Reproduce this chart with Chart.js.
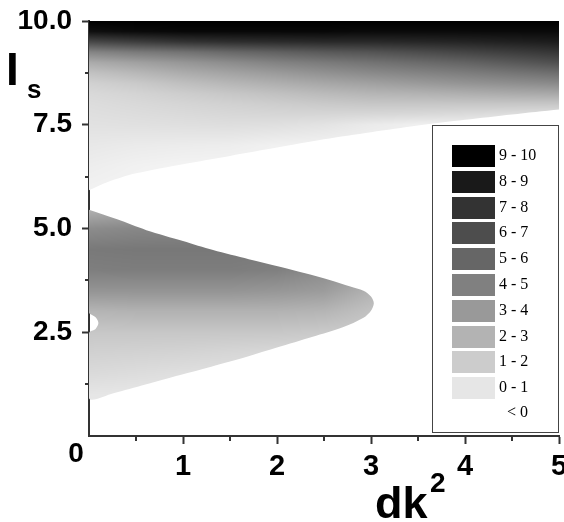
<!DOCTYPE html>
<html>
<head>
<meta charset="utf-8">
<script src="https://cdn.jsdelivr.net/npm/chart.js@4.4.0/dist/chart.umd.min.js"></script>
<style>
  html, body { margin: 0; padding: 0; background: #fff; }
  canvas { display: block; }
</style>
</head>
<body>
<canvas id="chart" width="564" height="522"></canvas>
<script>
// ---- values ----
var xTicks = [0, 1, 2, 3, 4, 5];
var xMinor = [0.5, 1.5, 2.5, 3.5, 4.5];
var yTicks = [0, 2.5, 5, 7.5, 10];
var yMinor = [1.25, 3.75, 6.25, 8.75];

// outline of the lower lobe (clockwise from the Is axis, with the small notch)
var lobeEdgeX = [0, 0.3, 0.61, 1.0, 1.32, 1.7, 2.03, 2.3, 2.56, 2.78, 2.92, 3.0, 3.03, 3.0, 2.92, 2.7, 2.38, 2.0, 1.68, 1.3, 0.97, 0.6, 0.26, 0, 0, 0.07, 0.1, 0.07, 0];
var lobeEdgeY = [5.45, 5.22, 4.96, 4.7, 4.48, 4.26, 4.08, 3.92, 3.76, 3.6, 3.5, 3.36, 3.2, 3.02, 2.85, 2.62, 2.39, 2.13, 1.91, 1.67, 1.47, 1.24, 1.03, 0.91, 2.48, 2.58, 2.72, 2.86, 2.96];

// lower edge of the upper region
var topEdgeX = [0, 0.2, 0.5, 1, 1.5, 2, 2.5, 3, 3.5, 4, 4.5, 5];
var topEdgeY = [5.92, 6.12, 6.33, 6.55, 6.75, 6.95, 7.15, 7.32, 7.48, 7.62, 7.75, 7.87];

// value grid inside the lobe (rows from top to bottom)
var lobeGridX = [0, 0.5, 1, 1.5, 2, 2.5, 3];
var lobeGridY = [5.5, 5, 4.5, 4, 3.5, 3, 2.5, 2, 1.5, 1, 0.75];
var lobeGrid = [
  [2.9, 3.3, 3.7, 3.9, 4.1, 4.2, 4.0],
  [4.5, 4.7, 4.8, 4.9, 4.9, 4.6, 4.2],
  [5.25, 5.3, 5.3, 5.3, 5.2, 4.7, 4.1],
  [5.05, 5.1, 5.1, 5.1, 5.0, 4.5, 3.8],
  [4.2, 4.2, 4.2, 4.2, 4.1, 3.9, 3.0],
  [2.9, 3.0, 3.0, 3.0, 3.0, 2.9, 2.4],
  [2.2, 2.2, 2.2, 2.2, 2.2, 2.1, 2.0],
  [1.8, 1.75, 1.7, 1.6, 1.5, 1.5, 1.5],
  [1.45, 1.35, 1.25, 1.2, 1.2, 1.2, 1.2],
  [1.0, 0.95, 0.9, 0.9, 0.9, 0.9, 0.9],
  [0.9, 0.9, 0.9, 0.9, 0.9, 0.9, 0.9]
];

// value grid of the upper region (rows from top to bottom)
var topGridX = [0, 0.5, 1, 1.5, 2, 2.5, 3, 3.5, 4, 4.5, 5];
var topGridY = [10, 9.75, 9.5, 9.25, 9, 8.75, 8.5, 8.25, 8, 7.75, 7.5, 7, 6.5, 6];
var topGrid = [
  [10, 10, 10, 10, 10, 10, 10, 10, 10, 10, 10],
  [9.4, 9.6, 9.7, 9.7, 9.7, 9.7, 9.6, 9.6, 9.6, 9.6, 9.6],
  [7.2, 7.6, 8.0, 8.2, 8.3, 8.4, 8.4, 8.5, 8.6, 8.75, 8.9],
  [4.8, 5.2, 5.5, 5.9, 6.2, 6.5, 6.7, 7.0, 7.3, 7.6, 7.9],
  [3.3, 3.7, 4.1, 4.5, 4.9, 5.2, 5.5, 5.8, 6.1, 6.5, 6.9],
  [2.4, 2.8, 3.25, 3.6, 3.95, 4.3, 4.6, 4.85, 5.1, 5.4, 5.7],
  [1.8, 2.1, 2.5, 2.85, 3.15, 3.45, 3.7, 3.95, 4.2, 4.4, 4.6],
  [1.5, 1.7, 1.95, 2.2, 2.45, 2.7, 2.9, 3.0, 3.15, 3.3, 3.4],
  [1.35, 1.5, 1.65, 1.8, 1.95, 2.1, 2.2, 2.2, 2.2, 2.2, 2.2],
  [1.25, 1.35, 1.45, 1.55, 1.6, 1.6, 1.55, 1.5, 1.4, 1.3, 1.2],
  [1.15, 1.2, 1.25, 1.3, 1.25, 1.1, 0.8, 0.6, 0.6, 0.6, 0.6],
  [0.9, 0.8, 0.75, 0.7, 0.55, 0.5, 0.5, 0.5, 0.5, 0.5, 0.5],
  [0.7, 0.55, 0.45, 0.45, 0.45, 0.45, 0.45, 0.45, 0.45, 0.45, 0.45],
  [0.55, 0.45, 0.45, 0.45, 0.45, 0.45, 0.45, 0.45, 0.45, 0.45, 0.45]
];

var legendLow = [9, 8, 7, 6, 5, 4, 3, 2, 1, 0];
var legendHigh = [10, 9, 8, 7, 6, 5, 4, 3, 2, 1];
var belowLabel = '< 0';

// ---- helpers ----
function grayOf(v) {
  var t = Math.min(Math.max(v, 0), 10);
  return Math.round(255 * (1 - t / 10));
}

function locate(arr, v) {
  var asc = arr[0] < arr[arr.length - 1];
  for (var i = 0; i < arr.length - 1; i++) {
    var a = arr[i], b = arr[i + 1];
    if ((asc && v <= b) || (!asc && v >= b)) {
      var t = (v - a) / (b - a);
      return [i, Math.min(Math.max(t, 0), 1)];
    }
  }
  return [arr.length - 2, 1];
}

function sample(gx, gy, grid, x, y) {
  var cx = locate(gx, x), cy = locate(gy, y);
  var i = cx[0], tx = cx[1], j = cy[0], ty = cy[1];
  var a = grid[j][i] * (1 - tx) + grid[j][i + 1] * tx;
  var b = grid[j + 1][i] * (1 - tx) + grid[j + 1][i + 1] * tx;
  return a * (1 - ty) + b * ty;
}

var fillCache = {};
function fieldFill(chart, name, gx, gy, grid) {
  var area = chart.chartArea;
  if (!area || !chart.scales.x || !chart.scales.y) return 'transparent';
  var key = name + [area.left, area.top, area.right, area.bottom].join(',');
  if (fillCache[key]) return fillCache[key];
  var sx = chart.scales.x, sy = chart.scales.y;
  var off = document.createElement('canvas');
  off.width = chart.width;
  off.height = chart.height;
  var g = off.getContext('2d');
  var img = g.createImageData(off.width, off.height);
  for (var py = Math.floor(area.top); py < Math.ceil(area.bottom); py++) {
    var vy = sy.getValueForPixel(py + 0.5);
    for (var px = Math.floor(area.left); px < Math.ceil(area.right); px++) {
      var vx = sx.getValueForPixel(px + 0.5);
      var c = grayOf(sample(gx, gy, grid, vx, vy));
      var k = (py * off.width + px) * 4;
      img.data[k] = c; img.data[k + 1] = c; img.data[k + 2] = c; img.data[k + 3] = 255;
    }
  }
  g.putImageData(img, 0, 0);
  fillCache[key] = g.createPattern(off, 'no-repeat');
  return fillCache[key];
}

function points(xs, ys) {
  return xs.map(function(x, i) { return {x: x, y: ys[i]}; });
}

var tickFont = {family: '"Liberation Sans", Arial, sans-serif', weight: 'bold'};

var decor = {
  id: 'decor',
  beforeDraw: function(chart) {
    var c = chart.ctx;
    c.save();
    c.fillStyle = '#fff';
    c.fillRect(0, 0, chart.width, chart.height);
    c.restore();
  },
  afterDraw: function(chart) {
    var c = chart.ctx, x = chart.scales.x, y = chart.scales.y;
    c.save();

    // minor ticks
    c.strokeStyle = '#333';
    c.lineWidth = 2;
    c.beginPath();
    xMinor.forEach(function(v) {
      var px = Math.round(x.getPixelForValue(v));
      c.moveTo(px, y.bottom); c.lineTo(px, y.bottom + 5);
    });
    yMinor.forEach(function(v) {
      var py = Math.round(y.getPixelForValue(v));
      c.moveTo(x.left, py); c.lineTo(x.left - 4, py);
    });
    c.stroke();

    // shared origin label
    c.fillStyle = '#000';
    c.font = 'bold 28px "Liberation Sans", Arial, sans-serif';
    c.textAlign = 'center';
    c.textBaseline = 'alphabetic';
    c.fillText('0', 76, 462);

    // axis titles
    c.textAlign = 'left';
    c.font = 'bold 46px "Liberation Sans", Arial, sans-serif';
    c.fillText('I', 6, 85);
    c.font = 'bold 26px "Liberation Sans", Arial, sans-serif';
    c.fillText('s', 27, 98);
    c.font = 'bold 45px "Liberation Sans", Arial, sans-serif';
    c.fillText('dk', 375, 518);
    c.font = 'bold 28px "Liberation Sans", Arial, sans-serif';
    c.fillText('2', 430, 492);

    // legend box
    c.fillStyle = '#fff';
    c.fillRect(432, 125, 127, 308);
    c.strokeStyle = '#444';
    c.lineWidth = 1;
    c.strokeRect(432.5, 125.5, 126, 307);
    c.font = '16px "Liberation Serif", "Times New Roman", serif';
    c.textBaseline = 'middle';
    for (var i = 0; i < legendLow.length; i++) {
      var top = 145 + i * 25.8;
      var g = grayOf(legendHigh[i]);
      c.fillStyle = 'rgb(' + g + ',' + g + ',' + g + ')';
      c.fillRect(452, Math.round(top), 43, 22);
      c.fillStyle = '#000';
      c.fillText(legendLow[i] + ' - ' + legendHigh[i], 499, Math.round(top) + 11);
    }
    c.fillText(belowLabel, 507, 413);
    c.restore();
  }
};

var chart = new Chart(document.getElementById('chart'), {
  type: 'scatter',
  data: {
    datasets: [
      {
        label: 'lobe',
        data: points(lobeEdgeX, lobeEdgeY),
        showLine: true,
        fill: 'shape',
        tension: 0.3,
        borderColor: 'transparent',
        pointRadius: 0,
        backgroundColor: function(ctx) { return fieldFill(ctx.chart, 'lobe', lobeGridX, lobeGridY, lobeGrid); }
      },
      {
        label: 'top',
        data: points(topEdgeX, topEdgeY),
        showLine: true,
        fill: 'end',
        tension: 0.3,
        borderColor: 'transparent',
        pointRadius: 0,
        backgroundColor: function(ctx) { return fieldFill(ctx.chart, 'top', topGridX, topGridY, topGrid); }
      }
    ]
  },
  options: {
    responsive: false,
    animation: false,
    events: [],
    layout: {padding: {top: 21, right: 5, left: 0, bottom: 0}},
    plugins: {legend: {display: false}, tooltip: {enabled: false}},
    scales: {
      x: {
        type: 'linear', min: 0, max: 5,
        afterBuildTicks: function(s) { s.ticks = xTicks.map(function(v) { return {value: v}; }); },
        ticks: {
          callback: function(v) { return v === 0 ? '' : String(v); },
          font: Object.assign({size: 29}, tickFont), color: '#000', padding: 6, maxRotation: 0
        },
        grid: {
          drawOnChartArea: false, tickLength: 8, tickWidth: 2,
          tickColor: function(ctx) { return ctx.tick && ctx.tick.value === 0 ? 'transparent' : '#333'; }
        },
        border: {color: '#333', width: 2},
        afterFit: function(s) { s.height = 86; s.paddingLeft = 0; s.paddingRight = 0; }
      },
      y: {
        type: 'linear', min: 0, max: 10,
        afterBuildTicks: function(s) { s.ticks = yTicks.map(function(v) { return {value: v}; }); },
        ticks: {
          callback: function(v) { return v === 0 ? '' : v.toFixed(1); },
          font: Object.assign({size: 28}, tickFont), color: '#000', padding: 10
        },
        grid: {
          drawOnChartArea: false, tickLength: 7, tickWidth: 2,
          tickColor: function(ctx) { return ctx.tick && ctx.tick.value === 0 ? 'transparent' : '#333'; }
        },
        border: {color: '#333', width: 2},
        afterFit: function(s) { s.width = 89; s.paddingTop = 0; s.paddingBottom = 0; }
      }
    }
  },
  plugins: [decor]
});
</script>
</body>
</html>
